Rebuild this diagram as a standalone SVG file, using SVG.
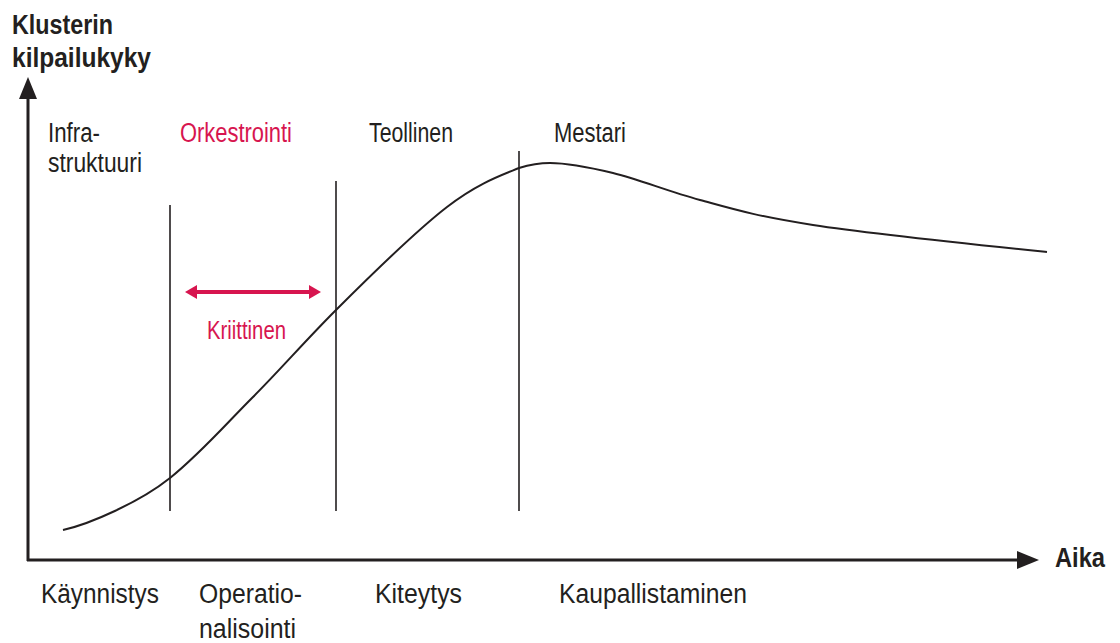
<svg xmlns="http://www.w3.org/2000/svg" width="1120" height="643" viewBox="0 0 1120 643">
  <style>
    text { font-family: "Liberation Sans Narrow", "Liberation Sans", Arial, sans-serif; fill: #231f20; }
    .lbl { font-size: 27px; }
    .bold { font-size: 28px; font-weight: bold; }
    .red { fill: #d7154f; }
    .axis { stroke: #231f20; stroke-width: 3; fill: none; }
    .div { stroke: #231f20; stroke-width: 1.6; fill: none; }
    .curve { stroke: #231f20; stroke-width: 2; fill: none; }
    .crit { stroke: #d7154f; stroke-width: 4; fill: none; }
  </style>
  <defs>
    <marker id="axisHead" markerUnits="userSpaceOnUse" markerWidth="22" markerHeight="18" refX="0" refY="9" orient="auto">
      <path d="M0,0 L22,9 L0,18 z" fill="#231f20"/>
    </marker>
    <marker id="critHead" markerUnits="userSpaceOnUse" markerWidth="12" markerHeight="14" refX="0" refY="7" orient="auto-start-reverse">
      <path d="M0,0 L12,7 L0,14 z" fill="#d7154f"/>
    </marker>
  </defs>
  <rect width="1120" height="643" fill="#ffffff"/>

  <g id="connectors">
    <line class="axis" x1="28" y1="561" x2="28" y2="99" marker-end="url(#axisHead)"/>
    <line class="axis" x1="27" y1="560" x2="1017" y2="560" marker-end="url(#axisHead)"/>
    <line class="div" x1="170" y1="205" x2="170" y2="511"/>
    <line class="div" x1="336" y1="181" x2="336" y2="511"/>
    <line class="div" x1="519" y1="151" x2="519" y2="511"/>
    <path class="curve" d="M63,530 C90,524 140,502 170,478 C200,454 225,425 253,397 C281,369 304,342 336,310 C368,278 416,231 447,207 C478,183 502,175 519,168 C532,164 538,163 550,163 C565,163 588,167 613,173 C638,179 667,191 700,200 C733,209 755,216 813,225 C871,234 1008,248 1047,252"/>
    <line class="crit" x1="197" y1="292" x2="309" y2="292" marker-start="url(#critHead)" marker-end="url(#critHead)"/>
  </g>

  <g id="y-axis-label">
    <text class="bold" x="12" y="34" textLength="101" lengthAdjust="spacingAndGlyphs">Klusterin</text>
    <text class="bold" x="12" y="67" textLength="139" lengthAdjust="spacingAndGlyphs">kilpailukyky</text>
  </g>
  <g id="x-axis-label">
    <text class="bold" x="1055" y="567" textLength="50" lengthAdjust="spacingAndGlyphs">Aika</text>
  </g>

  <g id="phase-infrastruktuuri">
    <text class="lbl" x="48" y="142" textLength="52" lengthAdjust="spacingAndGlyphs">Infra-</text>
    <text class="lbl" x="48" y="172" textLength="94" lengthAdjust="spacingAndGlyphs">struktuuri</text>
  </g>
  <g id="phase-orkestrointi">
    <text class="lbl red" x="180" y="142" textLength="112" lengthAdjust="spacingAndGlyphs">Orkestrointi</text>
  </g>
  <g id="phase-teollinen">
    <text class="lbl" x="369" y="142" textLength="84" lengthAdjust="spacingAndGlyphs">Teollinen</text>
  </g>
  <g id="phase-mestari">
    <text class="lbl" x="554" y="142" textLength="72" lengthAdjust="spacingAndGlyphs">Mestari</text>
  </g>
  <g id="kriittinen">
    <text class="lbl red" x="207" y="339" style="font-size:25px" textLength="79" lengthAdjust="spacingAndGlyphs">Kriittinen</text>
  </g>

  <g id="stage-kaynnistys">
    <text class="lbl" x="41" y="603" textLength="118" lengthAdjust="spacingAndGlyphs">Käynnistys</text>
  </g>
  <g id="stage-operationalisointi">
    <text class="lbl" x="199" y="603" textLength="103" lengthAdjust="spacingAndGlyphs">Operatio-</text>
    <text class="lbl" x="199" y="638" textLength="97" lengthAdjust="spacingAndGlyphs">nalisointi</text>
  </g>
  <g id="stage-kiteytys">
    <text class="lbl" x="375" y="603" textLength="87" lengthAdjust="spacingAndGlyphs">Kiteytys</text>
  </g>
  <g id="stage-kaupallistaminen">
    <text class="lbl" x="559" y="603" textLength="188" lengthAdjust="spacingAndGlyphs">Kaupallistaminen</text>
  </g>
</svg>
